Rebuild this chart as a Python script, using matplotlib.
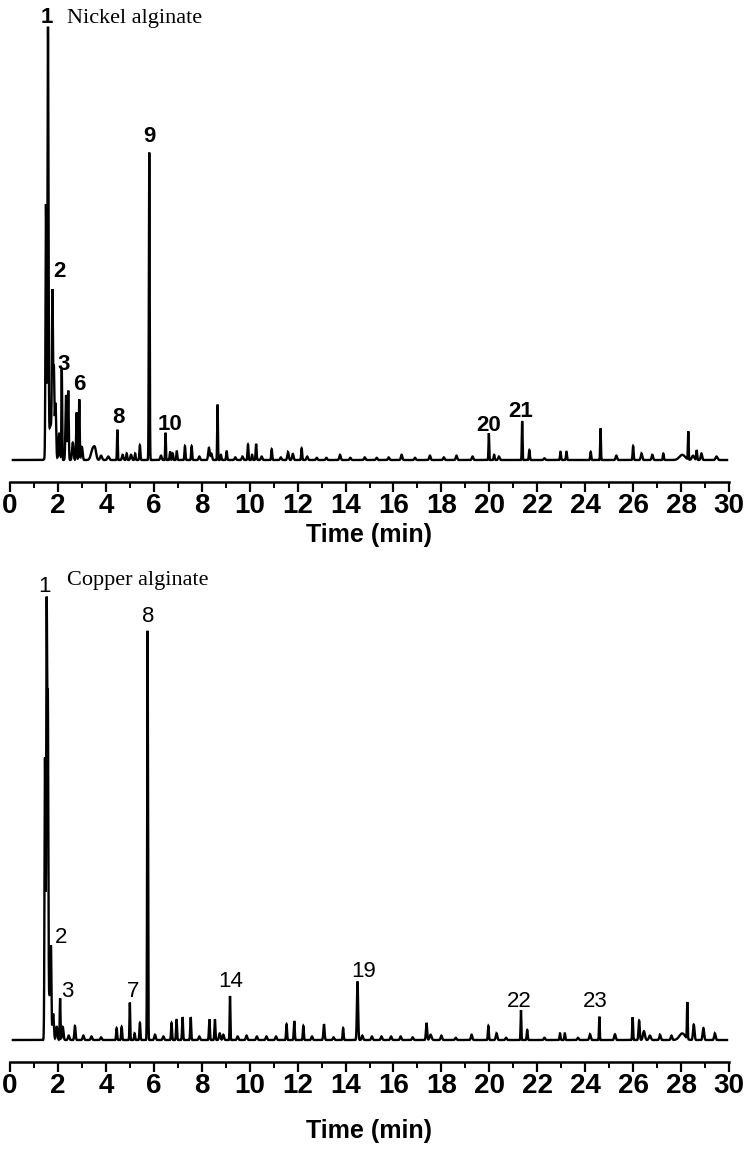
import numpy as np
import matplotlib
matplotlib.use("Agg")
import matplotlib.pyplot as plt
from matplotlib.ticker import MultipleLocator

# ---------------- data: peak tables (retention time [min], relative height, width [min]) ----
ni_times = [1.50, 1.585, 1.70, 1.77, 1.83, 1.90, 2.05, 2.16, 2.34, 2.43, 2.62, 2.78, 2.89, 3.00,
            3.45, 3.55, 3.80, 4.10, 4.48, 4.70, 4.87, 5.05, 5.22, 5.42, 5.81, 6.30, 6.49, 6.68,
            6.79, 6.96, 7.30, 7.58, 7.90, 8.30, 8.40, 8.66, 8.80, 9.04, 9.40, 9.70, 9.93, 10.10,
            10.27, 10.50, 10.92, 11.30, 11.60, 11.80, 12.17, 12.40, 12.80, 13.20, 13.77, 14.20,
            14.80, 15.30, 15.80, 16.34, 16.90, 17.52, 18.10, 18.63, 19.30, 19.98, 20.20, 20.40,
            21.37, 21.67, 22.30, 22.97, 23.22, 24.23, 24.64, 25.30, 26.00, 26.35, 26.80, 27.26,
            28.05, 28.30, 28.50, 28.65, 28.85, 29.48]
ni_heights = [58, 96, 8, 33, 18, 12, 6, 21, 15, 16, 4, 11, 14, 3,
              2.5, 2, 1, 0.8, 7, 1.2, 1.5, 1.2, 1.5, 3.4, 71, 1, 6.3, 1.8,
              1.5, 2, 3.2, 3.2, 0.8, 2.8, 1.5, 12.8, 1.2, 2, 0.6, 0.8, 3.6, 1.2,
              3.7, 0.8, 2.5, 0.6, 1.8, 1.4, 2.7, 0.8, 0.5, 0.5, 1.2, 0.5,
              0.6, 0.5, 0.6, 1.2, 0.5, 1.0, 0.6, 1.0, 0.8, 6.2, 1.2, 0.8,
              9.0, 2.3, 0.4, 1.9, 1.9, 1.9, 7.3, 1.0, 3.2, 1.5, 1.2, 1.5,
              1.2, 6.5, 1.0, 2.3, 1.5, 0.8]
ni_widths = [0.02, 0.02, 0.10, 0.02, 0.02, 0.025, 0.03, 0.015, 0.025, 0.02, 0.03, 0.02, 0.018, 0.03,
             0.07, 0.05, 0.04, 0.04, 0.015, 0.03, 0.02, 0.03, 0.02, 0.02, 0.017, 0.03, 0.015, 0.02,
             0.02, 0.02, 0.02, 0.02, 0.03, 0.03, 0.03, 0.015, 0.02, 0.02, 0.03, 0.03, 0.02, 0.02,
             0.02, 0.03, 0.02, 0.03, 0.03, 0.03, 0.02, 0.03, 0.03, 0.03, 0.03, 0.03,
             0.03, 0.03, 0.03, 0.03, 0.03, 0.03, 0.03, 0.03, 0.03, 0.015, 0.02, 0.03,
             0.015, 0.02, 0.03, 0.02, 0.02, 0.02, 0.015, 0.03, 0.02, 0.03, 0.03, 0.02,
             0.12, 0.015, 0.05, 0.02, 0.03, 0.04]

cu_times = [1.46, 1.53, 1.58, 1.65, 1.71, 1.80, 1.95, 2.09, 2.20, 2.45, 2.71, 3.06, 3.40, 3.80,
            4.45, 4.66, 5.00, 5.20, 5.42, 5.74, 6.05, 6.40, 6.74, 6.95, 7.20, 7.54, 7.90, 8.32,
            8.55, 8.75, 8.90, 9.18, 9.50, 9.87, 10.30, 10.70, 11.10, 11.54, 11.86, 12.24, 12.60,
            13.10, 13.50, 13.90, 14.50, 14.70, 15.10, 15.50, 15.90, 16.30, 16.80, 17.38, 17.55,
            18.00, 18.60, 19.26, 19.96, 20.30, 20.70, 21.32, 21.58, 22.30, 22.95, 23.15, 23.70,
            24.20, 24.59, 25.24, 25.98, 26.25, 26.45, 26.70, 27.12, 27.60, 28.05, 28.26, 28.53,
            28.93, 29.41]
cu_heights = [64, 97, 74, 10, 20, 6, 3, 9.5, 3, 1, 3.2, 1.0, 0.8, 0.6,
              2.7, 3.0, 8.5, 1.5, 3.9, 93, 1.2, 0.8, 3.9, 4.7, 5.2, 5.2, 0.8, 4.7,
              4.7, 1.5, 1.2, 10, 0.8, 1.0, 0.8, 0.8, 0.8, 3.6, 4.3, 3.2, 0.8,
              3.6, 0.6, 2.7, 13.3, 1.0, 0.8, 0.8, 0.8, 0.8, 0.6, 3.9, 1.2,
              1.0, 0.5, 1.2, 3.2, 1.5, 0.5, 6.8, 2.3, 0.5, 1.5, 1.5, 0.5,
              1.3, 5.3, 1.3, 5.2, 4.4, 2.0, 1.0, 1.2, 1.0, 1.5, 8.3, 3.5,
              2.7, 1.5]
cu_widths = [0.02, 0.02, 0.02, 0.03, 0.02, 0.03, 0.03, 0.015, 0.03, 0.03, 0.025, 0.03, 0.03, 0.03,
             0.02, 0.02, 0.015, 0.02, 0.02, 0.017, 0.03, 0.03, 0.02, 0.02, 0.02, 0.02, 0.03, 0.02,
             0.02, 0.03, 0.03, 0.015, 0.03, 0.03, 0.03, 0.03, 0.03, 0.02, 0.02, 0.02, 0.03,
             0.025, 0.03, 0.02, 0.025, 0.03, 0.03, 0.03, 0.03, 0.03, 0.03, 0.025, 0.04,
             0.03, 0.03, 0.03, 0.02, 0.03, 0.03, 0.015, 0.02, 0.03, 0.02, 0.02, 0.03,
             0.03, 0.015, 0.03, 0.018, 0.025, 0.04, 0.04, 0.03, 0.03, 0.12, 0.015, 0.03,
             0.03, 0.03]

# peak number labels
ni_labels = ["1", "2", "3", "6", "8", "9", "10", "20", "21"]
ni_label_x = [1.52, 2.06, 2.22, 2.89, 4.52, 5.81, 6.68, 19.95, 21.32]
ni_label_y = [100.9, 42.3, 20.8, 16.2, 8.5, 73.5, 6.9, 6.7, 9.9]

cu_labels = ["1", "8", "2", "3", "7", "14", "19", "22", "23"]
cu_label_x = [1.43, 5.77, 2.12, 2.37, 5.12, 9.22, 14.74, 21.24, 24.43]
cu_label_y = [101.9, 95.1, 22.0, 9.8, 9.8, 12.1, 14.3, 7.6, 7.6]

x_ticks = list(range(0, 31, 2))
sample_names = ["Nickel alginate", "Copper alginate"]


def chromatogram(t, times, heights, widths):
    y = np.zeros_like(t)
    for c, h, w in zip(times, heights, widths):
        y += h * np.exp(-0.5 * ((t - c) / w) ** 2)
    return y


t = np.arange(0.12, 29.92, 0.002)

fig = plt.figure(figsize=(7.45, 11.52), dpi=100)
W, H = 745.0, 1152.0
left = 10 / W
width = 719 / W

ax1 = fig.add_axes([left, 1 - 482 / H, width, 462 / H])
ax2 = fig.add_axes([left, 1 - 1062 / H, width, 482 / H])

panels = [
    (ax1, ni_times, ni_heights, ni_widths, ni_labels, ni_label_x, ni_label_y,
     (-22 / 4.33, 440 / 4.33), 'bold', (2.38, 100.9), 3),
    (ax2, cu_times, cu_heights, cu_widths, cu_labels, cu_label_x, cu_label_y,
     (-22 / 4.4, 460 / 4.4), 'normal', (2.37, 103.4), 14),
]

for i, (ax, tm, hh, ww, labs, lx, ly, ylim, lw, name_pos, lpad) in enumerate(panels):
    y = chromatogram(t, tm, hh, ww)
    ax.plot(t, y, color='black', lw=1.7, solid_joinstyle='miter')
    ax.set_xlim(0, 30)
    ax.set_ylim(*ylim)
    for s in ['left', 'right', 'top']:
        ax.spines[s].set_visible(False)
    ax.spines['bottom'].set_linewidth(1.8)
    ax.set_yticks([])
    ax.set_xticks(x_ticks)
    ax.xaxis.set_minor_locator(MultipleLocator(1))
    ax.tick_params(axis='x', which='major', direction='out', length=7, width=1.6, pad=1)
    ax.tick_params(axis='x', which='minor', direction='out', length=4, width=1.4)
    for lab in ax.get_xticklabels():
        lab.set_fontfamily('Liberation Sans')
        lab.set_fontweight('bold')
        lab.set_fontsize(20)
    ax.set_xlabel('Time (min)', fontfamily='Liberation Sans', fontweight='bold',
                  fontsize=18, labelpad=lpad)
    ax.patch.set_alpha(0)
    for s_, x_, y_ in zip(labs, lx, ly):
        ax.text(x_, y_, s_, ha='center', va='baseline', fontsize=16,
                fontfamily='Liberation Sans', fontweight=lw)
    ax.text(name_pos[0], name_pos[1], sample_names[i], ha='left', va='baseline',
            fontsize=16, fontfamily='Liberation Serif')

fig.savefig('out.png', dpi=100)
